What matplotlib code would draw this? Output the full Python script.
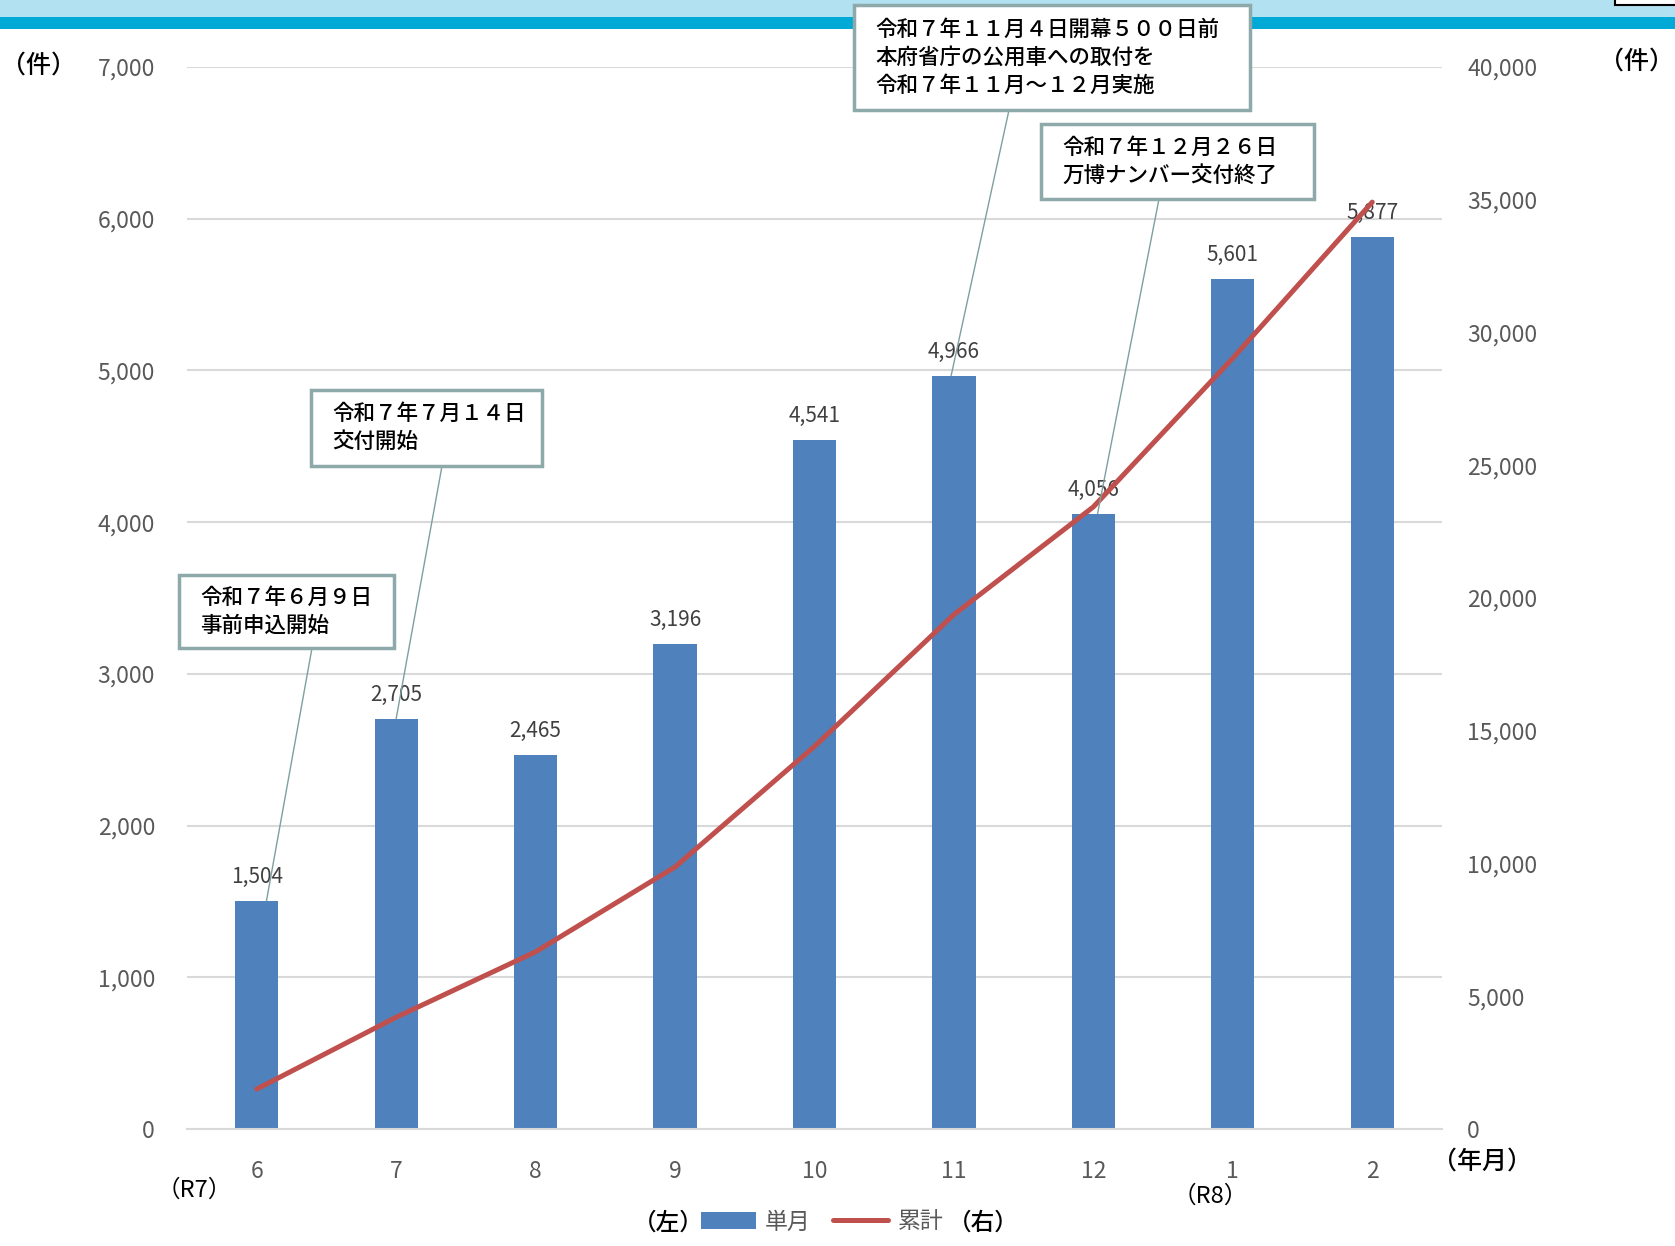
import numpy as np
import matplotlib
matplotlib.use("Agg")
import matplotlib.pyplot as plt
from matplotlib.patches import Rectangle, ConnectionPatch
from matplotlib.ticker import MultipleLocator, FuncFormatter

plt.rcParams['font.family'] = ['Noto Sans CJK JP', 'DejaVu Sans']

W, H = 1675, 1246


def fx(px):
    return px / W


def fy(py):
    return 1 - py / H


# data
months = ['6', '7', '8', '9', '10', '11', '12', '1', '2']
monthly = [1504, 2705, 2465, 3196, 4541, 4966, 4056, 5601, 5877]
cumulative = [1504, 4209, 6674, 9870, 14411, 19377, 23433, 29034, 34911]

note_texts = [
    "令和７年６月９日\n事前申込開始",
    "令和７年７月１４日\n交付開始",
    "令和７年１１月４日開幕５００日前\n本府省庁の公用車への取付を\n令和７年１１月～１２月実施",
    "令和７年１２月２６日\n万博ナンバー交付終了",
]
note_bars = [0, 1, 5, 6]

# box layout in image pixels: (left, top, right, bottom, leader start x, bar x offset)
note_boxes = [
    (179, 575, 394, 648, 312, 0.07),
    (311, 390, 542, 466, 442, 0.0),
    (854, 5, 1250, 110, 1009, -0.02),
    (1041, 124, 1314, 199, 1159, 0.03),
]

BLUE = '#4F81BD'
RED = '#C0504D'
GRID = '#D9D9D9'
TICK = '#595959'

fig = plt.figure(figsize=(W / 100, H / 100), dpi=100)

# header band
fig.add_artist(Rectangle((0, fy(17)), 1, 17 / H, transform=fig.transFigure,
                         fc='#B2E1F1', ec='none', zorder=0.5))
fig.add_artist(Rectangle((0, fy(29)), 1, 12 / H, transform=fig.transFigure,
                         fc='#00A9D6', ec='none', zorder=0.5))
fig.add_artist(Rectangle((fx(1615), fy(5)), fx(90), 20 / H, transform=fig.transFigure,
                         fc='white', ec='black', lw=1.5, zorder=0.6))

ax = fig.add_axes([fx(187), fy(1129), fx(1255), 1062 / H])
x = np.arange(len(months))
bars = ax.bar(x, monthly, width=0.31, color=BLUE, zorder=2)
ax.set_xlim(-0.5, len(months) - 0.5)
ax.set_ylim(0, 7000)
ax.yaxis.set_major_locator(MultipleLocator(1000))
ax.yaxis.set_major_formatter(FuncFormatter(lambda v, p: f'{v:,.0f}'))
ax.set_xticks(x, months)
ax.grid(axis='y', color=GRID, lw=1.5)
ax.set_axisbelow(True)
for s in ['top', 'left', 'right']:
    ax.spines[s].set_visible(False)
ax.spines['bottom'].set_color(GRID)
ax.spines['bottom'].set_linewidth(1.5)
ax.tick_params(axis='y', length=0, pad=23, labelsize=16.5, labelcolor=TICK)
ax.tick_params(axis='x', length=0, pad=22, labelsize=16.5, labelcolor=TICK)

for i, v in enumerate(monthly):
    ax.annotate(f'{v:,}', (i, v), xytext=(0, 13), textcoords='offset points',
                ha='center', va='baseline', fontsize=15, color='#404040', zorder=3)

ax2 = ax.twinx()
line, = ax2.plot(x, cumulative, color=RED, lw=3.6, solid_capstyle='round', zorder=3)
ax2.set_ylim(0, 40000)
ax2.yaxis.set_major_locator(MultipleLocator(5000))
ax2.yaxis.set_major_formatter(FuncFormatter(lambda v, p: f'{v:,.0f}'))
for s in ax2.spines.values():
    s.set_visible(False)
ax2.tick_params(axis='y', length=0, pad=18, labelsize=16.5, labelcolor=TICK)

# callout boxes
for text, bi, (x0, y0, x1, y1, sx, dx) in zip(note_texts, note_bars, note_boxes):
    fig.add_artist(Rectangle((fx(x0), fy(y1)), fx(x1 - x0), (y1 - y0) / H,
                             transform=fig.transFigure, fc='white', ec='#8EA9AA',
                             lw=2.5, zorder=5))
    fig.text(fx(x0 + 21), fy((y0 + y1) / 2), text, ha='left', va='center',
             fontsize=15.5, linespacing=1.35, color='black', weight='medium', zorder=6)
    con = ConnectionPatch(xyA=(fx(sx), fy(y1)), coordsA='figure fraction',
                          xyB=(bi + dx, monthly[bi]), coordsB='data', axesB=ax,
                          color='#7F9F9F', lw=1, zorder=4)
    fig.add_artist(con)

# axis unit labels
fig.text(fx(38), fy(66), '（件）', ha='center', va='center', fontsize=18, weight='medium')
fig.text(fx(1637), fy(62), '（件）', ha='center', va='center', fontsize=18, weight='medium')
fig.text(fx(1482), fy(1162), '（年月）', ha='center', va='center', fontsize=18, weight='medium')
fig.text(fx(194), fy(1190), '（R7）', ha='center', va='center', fontsize=17)
fig.text(fx(1210), fy(1196), '（R8）', ha='center', va='center', fontsize=17)

# legend
fig.legend([bars, line], ['単月', '累計'], loc='center',
           bbox_to_anchor=(fx(822), fy(1222)), ncol=2, frameon=False,
           fontsize=16.5, handlelength=2.4, handletextpad=0.4, columnspacing=1.0,
           borderpad=0.1, labelcolor=TICK)
fig.text(fx(668), fy(1223), '（左）', ha='center', va='center', fontsize=17, weight='medium')
fig.text(fx(983), fy(1223), '（右）', ha='center', va='center', fontsize=17, weight='medium')

fig.savefig('out.png', dpi=100)
